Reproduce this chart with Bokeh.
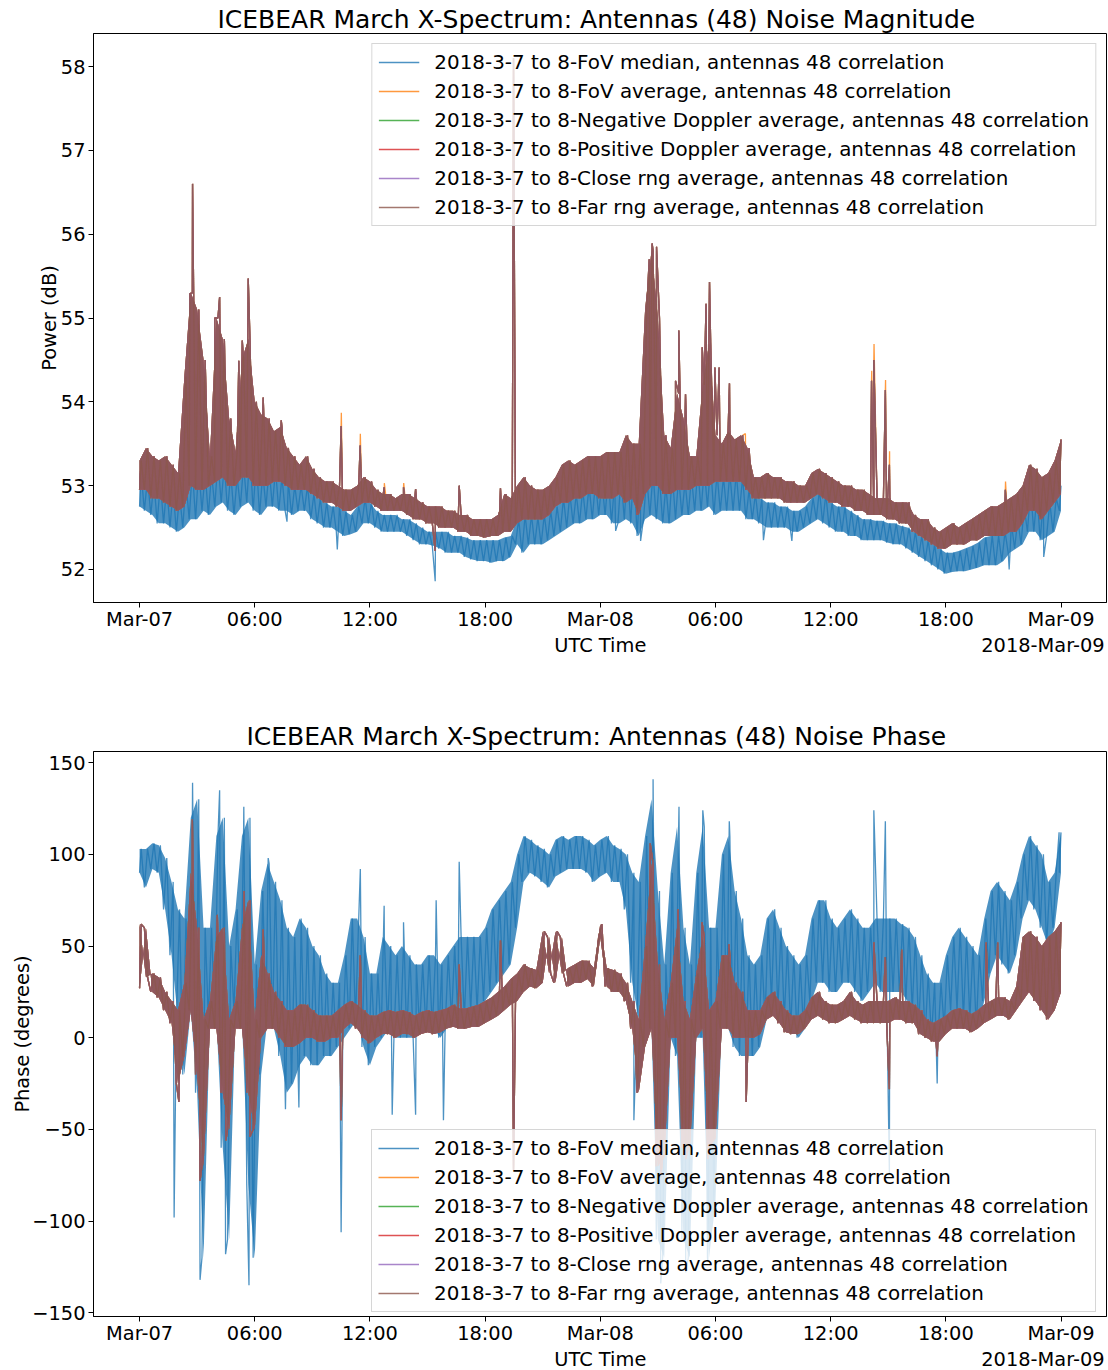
from bokeh.plotting import figure
from bokeh.layouts import column
from bokeh.models import FixedTicker, Range1d, Legend, LegendItem, Label
from bokeh.embed import file_html
from bokeh.resources import INLINE

# ---------------- data ----------------
# samples every 20 min from 2018-03-07 00:00 UTC (hours 0..48); each bin has a low and a high reading
STEP_H = 1.0 / 3.0

x_tick_hours = [0, 6, 12, 18, 24, 30, 36, 42, 48]
x_tick_labels = ["Mar-07", "06:00", "12:00", "18:00", "Mar-08", "06:00", "12:00", "18:00", "Mar-09"]
mag_ticks = [52, 53, 54, 55, 56, 57, 58]
mag_tick_labels = ["52", "53", "54", "55", "56", "57", "58"]
phase_ticks = [-150, -100, -50, 0, 50, 100, 150]
phase_tick_labels = ["\u2212150", "\u2212100", "\u221250", "0", "50", "100", "150"]

title_mag = "ICEBEAR March X-Spectrum: Antennas (48)  Noise Magnitude"
title_phase = "ICEBEAR March X-Spectrum: Antennas (48)  Noise Phase"
x_label = "UTC Time"
x_offset_label = "2018-Mar-09"

series_labels = [
    "2018-3-7 to 8-FoV median, antennas 48 correlation",
    "2018-3-7 to 8-FoV average, antennas 48 correlation",
    "2018-3-7 to 8-Negative Doppler average, antennas 48 correlation",
    "2018-3-7 to 8-Positive Doppler average, antennas 48 correlation",
    "2018-3-7 to 8-Close rng average, antennas 48 correlation",
    "2018-3-7 to 8-Far rng average, antennas 48 correlation",
]
series_colors = ["#1f77b4", "#ff7f0e", "#2ca02c", "#d62728", "#9467bd", "#8c564b"]

# --- magnitude (dB): FoV median
mag_med_lo = [52.75, 52.70, 52.65, 52.55, 52.55, 52.50, 52.45, 52.50, 52.60, 52.60, 52.70, 52.65,
              52.75, 52.80, 52.70, 52.65, 52.75, 52.80, 52.70, 52.65, 52.75, 52.75, 52.70, 52.70,
              52.65, 52.70, 52.70, 52.60, 52.55, 52.50, 52.50, 52.45, 52.40, 52.42, 52.45, 52.55,
              52.55, 52.50, 52.45, 52.45, 52.45, 52.45, 52.40, 52.35, 52.30, 52.30, 52.28, 52.25,
              52.20, 52.20, 52.20, 52.15, 52.12, 52.10, 52.10, 52.08, 52.10, 52.10, 52.15, 52.30,
              52.20, 52.30, 52.30, 52.30, 52.35, 52.40, 52.45, 52.50, 52.55, 52.55, 52.60, 52.60,
              52.65, 52.65, 52.55, 52.55, 52.60, 52.55, 52.40, 52.60, 52.65, 52.60, 52.55, 52.55,
              52.60, 52.65, 52.65, 52.70, 52.70, 52.75, 52.65, 52.70, 52.70, 52.70, 52.70, 52.60,
              52.60, 52.55, 52.50, 52.50, 52.50, 52.50, 52.45, 52.45, 52.50, 52.55, 52.60, 52.55,
              52.50, 52.45, 52.45, 52.40, 52.40, 52.35, 52.35, 52.35, 52.35, 52.32, 52.30, 52.30,
              52.25, 52.20, 52.15, 52.10, 52.05, 52.00, 51.95, 51.97, 51.98, 51.98, 52.00, 52.02,
              52.05, 52.05, 52.05, 52.10, 52.20, 52.25, 52.30, 52.45, 52.45, 52.35, 52.40, 52.45, 52.70]
mag_med_hi = [53.15, 53.10, 53.05, 53.05, 53.00, 52.95, 52.90, 53.05, 53.20, 53.20, 53.15, 53.15,
              53.30, 53.25, 53.15, 53.10, 53.25, 53.40, 53.30, 53.15, 53.20, 53.20, 53.10, 53.05,
              53.00, 53.00, 53.00, 52.90, 52.85, 52.80, 52.75, 52.75, 52.70, 52.65, 52.75, 52.85,
              52.80, 52.70, 52.65, 52.65, 52.65, 52.60, 52.60, 52.55, 52.50, 52.45, 52.45, 52.45,
              52.45, 52.40, 52.40, 52.38, 52.35, 52.35, 52.35, 52.35, 52.35, 52.38, 52.40, 52.60,
              52.65, 52.65, 52.62, 52.65, 52.70, 52.75, 52.85, 52.90, 52.90, 52.95, 53.00, 53.05,
              53.05, 53.10, 53.05, 53.10, 53.20, 53.25, 53.10, 53.10, 53.15, 53.10, 53.00, 53.15,
              53.10, 53.05, 53.10, 53.20, 53.20, 53.25, 53.15, 53.10, 53.15, 53.15, 53.10, 52.95,
              52.90, 52.85, 52.80, 52.80, 52.75, 52.75, 52.70, 52.70, 52.75, 52.85, 52.95, 52.90,
              52.80, 52.75, 52.75, 52.70, 52.65, 52.60, 52.60, 52.58, 52.58, 52.55, 52.55, 52.52,
              52.50, 52.45, 52.40, 52.35, 52.30, 52.25, 52.20, 52.20, 52.22, 52.25, 52.28, 52.32,
              52.38, 52.40, 52.40, 52.45, 52.55, 52.60, 52.75, 52.95, 52.90, 52.85, 52.80, 52.85, 53.00]
mag_med_spike_h = [7.68, 10.30, 15.40, 24.80, 26.10, 32.50, 33.98, 45.30, 47.10]
mag_med_spike_v = [52.57, 52.24, 51.86, 52.46, 52.34, 52.35, 52.34, 52.00, 52.15]

# --- magnitude (dB): averages (FoV, Doppler, range averages overlap almost exactly)
mag_avg_lo = [52.95, 52.95, 52.85, 52.85, 52.80, 52.75, 52.70, 52.75, 53.00, 52.95, 52.95, 53.00,
              53.05, 53.10, 53.00, 53.00, 53.10, 53.10, 53.00, 53.00, 53.00, 53.05, 53.05, 53.00,
              52.95, 52.95, 52.95, 52.90, 52.85, 52.80, 52.80, 52.75, 52.70, 52.70, 52.75, 52.80,
              52.80, 52.75, 52.70, 52.70, 52.70, 52.70, 52.65, 52.60, 52.60, 52.55, 52.55, 52.50,
              52.50, 52.50, 52.45, 52.45, 52.40, 52.40, 52.38, 52.40, 52.40, 52.45, 52.45, 52.55,
              52.60, 52.60, 52.60, 52.60, 52.65, 52.75, 52.80, 52.80, 52.85, 52.85, 52.90, 52.90,
              52.85, 52.85, 52.85, 52.90, 52.80, 52.85, 52.65, 52.90, 53.00, 53.00, 52.90, 52.90,
              52.95, 52.95, 52.95, 53.00, 53.00, 53.00, 53.05, 53.05, 53.05, 53.05, 53.05, 52.95,
              52.85, 52.85, 52.85, 52.85, 52.85, 52.80, 52.80, 52.80, 52.80, 52.85, 52.90, 52.85,
              52.80, 52.80, 52.75, 52.75, 52.70, 52.70, 52.65, 52.65, 52.65, 52.60, 52.60, 52.55,
              52.55, 52.45, 52.40, 52.35, 52.30, 52.25, 52.25, 52.30, 52.30, 52.30, 52.35, 52.35,
              52.40, 52.40, 52.40, 52.40, 52.45, 52.45, 52.55, 52.70, 52.70, 52.60, 52.70, 52.80, 52.90]
mag_avg_hi = [53.30, 53.45, 53.35, 53.30, 53.35, 53.25, 53.15, 54.30, 55.30, 55.10, 54.50, 53.35,
              55.00, 54.75, 53.80, 53.40, 54.50, 54.75, 54.00, 53.85, 53.80, 53.65, 53.70, 53.45,
              53.35, 53.25, 53.35, 53.20, 53.10, 53.05, 53.05, 53.00, 52.95, 52.95, 53.00, 53.10,
              53.05, 52.95, 52.90, 52.90, 52.85, 52.90, 52.90, 52.85, 52.80, 52.75, 52.75, 52.75,
              52.70, 52.70, 52.65, 52.65, 52.60, 52.60, 52.60, 52.60, 52.65, 52.90, 52.85, 53.00,
              53.10, 53.00, 52.95, 52.95, 53.00, 53.10, 53.25, 53.30, 53.25, 53.30, 53.35, 53.35,
              53.35, 53.40, 53.40, 53.40, 53.60, 53.50, 53.50, 55.10, 55.80, 55.00, 53.60, 53.45,
              54.10, 53.80, 53.35, 53.35, 54.20, 54.70, 53.60, 53.50, 53.65, 53.55, 53.60, 53.45,
              53.10, 53.10, 53.15, 53.10, 53.10, 53.05, 53.05, 53.00, 53.00, 53.15, 53.20, 53.15,
              53.10, 53.05, 53.00, 53.00, 52.95, 52.95, 52.90, 52.85, 52.85, 52.85, 52.80, 52.80,
              52.80, 52.65, 52.60, 52.60, 52.50, 52.45, 52.50, 52.55, 52.50, 52.55, 52.60, 52.65,
              52.70, 52.75, 52.75, 52.80, 52.85, 52.90, 53.00, 53.25, 53.20, 53.10, 53.15, 53.30, 53.55]
mag_avg_spike_h = [2.62, 2.76, 3.92, 4.17, 4.46, 5.17, 5.35, 5.66, 6.44, 7.38, 10.50, 11.49, 12.74,
                   13.75, 14.38, 15.40, 16.65, 18.80, 19.48, 26.55, 26.70, 26.93, 27.92, 28.09, 28.44,
                   29.31, 29.51, 29.69, 29.97, 30.19, 30.73, 38.13, 38.25, 38.85, 39.06, 45.10]
mag_avg_spike_v = [55.29, 56.60, 55.00, 55.25, 54.25, 54.49, 54.73, 55.47, 54.05, 53.78, 53.71, 53.48, 52.98,
                   52.98, 52.96, 52.22, 53.00, 52.97, 58.10, 55.70, 55.89, 55.85, 54.25, 54.85, 54.09,
                   54.65, 55.17, 55.43, 54.41, 54.41, 54.22, 54.25, 54.50, 54.14, 53.25, 52.95]
# FoV average peaks that stick out above the other averages
mag_fov_avg_extra_h = [10.51, 11.50, 12.75, 13.76, 31.56, 38.14, 38.26, 38.86, 39.07, 45.11]
mag_fov_avg_extra_v = [53.87, 53.62, 53.03, 53.03, 53.62, 54.37, 54.69, 54.26, 53.41, 53.05]

# --- phase (degrees): FoV median
ph_med_lo = [90, 82, 92, 90, 70, 45, 10, -20, 15, -30, -120, 10,
             10, -60, -110, 15, 10, -80, -120, -20, 10, 5, -10, -30,
             -25, -15, -10, -15, -15, -10, -10, -5, 0, 5, 10, -5,
             -15, -5, 0, 5, 0, 0, 0, 0, 5, 5, 5, 0,
             5, 10, 10, 10, 15, 15, 20, 25, 30, 35, 40, 60,
             85, 90, 88, 85, 82, 88, 90, 92, 92, 92, 90, 85,
             88, 90, 85, 85, 70, 30, 10, 0, 5, -110, -120, 0,
             -10, -110, -120, 0, 0, -120, -90, 10, 5, -5, -10, -10,
             -10, -5, 10, 20, 15, 10, 5, 0, 5, 20, 30, 30,
             25, 25, 30, 30, 25, 20, 25, 30, 25, 25, 25, 25,
             20, 15, 5, 0, 0, -2, 5, 15, 15, 10, 10, 5,
             20, 35, 45, 40, 35, 45, 65, 75, 70, 60, 50, 60, 90]
ph_med_hi = [103, 103, 106, 105, 98, 85, 70, 65, 120, 130, 60, 60,
             110, 120, 50, 70, 110, 120, 40, 80, 95, 85, 75, 60,
             55, 65, 60, 50, 45, 35, 30, 30, 45, 65, 65, 55,
             35, 35, 55, 50, 45, 50, 45, 40, 40, 45, 45, 40,
             45, 50, 55, 55, 55, 55, 60, 70, 75, 80, 85, 100,
             110, 108, 105, 103, 100, 108, 110, 108, 110, 110, 108, 105,
             108, 110, 105, 103, 100, 90, 85, 110, 130, 80, 40, 90,
             115, 60, 40, 90, 115, 60, 60, 100, 110, 80, 65, 45,
             40, 45, 65, 70, 60, 50, 45, 40, 45, 65, 75, 75,
             65, 60, 65, 70, 65, 60, 60, 65, 65, 65, 65, 62,
             60, 55, 45, 35, 30, 30, 45, 55, 60, 55, 50, 45,
             65, 80, 85, 80, 75, 85, 100, 110, 105, 100, 85, 90, 112]
ph_med_spike_h = [1.80, 2.76, 3.15, 4.17, 4.48, 5.43, 5.70, 6.70, 7.60, 8.30, 10.50, 11.50, 12.74,
                  13.16, 13.75, 14.38, 15.45, 15.83, 16.65, 25.75, 26.75, 27.15, 28.10, 28.45,
                  29.34, 29.60, 30.72, 38.25, 38.85, 39.06, 41.55, 47.90]
ph_med_spike_v = [-98, 139, -132, 135, -118, 126, -135, 98, -39, -38, -106, 92, 72,
                  -42, 63, -42, 75, -45, 96, -45, 141, -134, 126, -128,
                  124, -122, 118, 124, 118, -74, -25, 112]

# --- phase (degrees): averages
ph_avg_lo = [27, 60, 25, 22, 15, 8, -25, -10, 15, -20, -70, 5,
             5, -30, -50, 5, 5, -30, -50, 0, 5, 5, 0, -5,
             -5, -3, 0, 0, -2, -2, 0, 0, 5, 8, 5, 0,
             -3, 0, 2, 2, 0, 2, 2, 0, 2, 3, 2, 3,
             5, 6, 5, 5, 6, 6, 8, 10, 12, 15, 18, 20,
             25, 28, 27, 30, 55, 30, 55, 28, 30, 30, 32, 28,
             55, 28, 25, 25, 20, 5, -30, -5, 5, -70, -65, 0,
             0, -60, -60, 0, 5, -60, -55, 5, 5, 0, 0, 0,
             0, 2, 10, 12, 8, 3, 2, 2, 5, 10, 12, 10,
             8, 8, 10, 12, 10, 8, 8, 8, 8, 8, 10, 10,
             8, 8, 2, 0, -2, -2, 2, 5, 5, 5, 3, 5,
             8, 10, 12, 12, 10, 15, 20, 25, 20, 15, 10, 15, 25]
ph_avg_hi = [62, 33, 35, 33, 25, 20, 15, 30, 90, 60, 10, 20,
             55, 60, 10, 20, 60, 75, 10, 45, 35, 25, 20, 15,
             15, 18, 18, 15, 12, 12, 12, 15, 18, 20, 18, 15,
             12, 12, 14, 15, 14, 15, 14, 12, 14, 15, 14, 15,
             16, 18, 16, 16, 17, 18, 20, 22, 25, 28, 32, 35,
             40, 38, 37, 58, 35, 58, 35, 38, 40, 42, 42, 38,
             62, 38, 37, 35, 30, 20, 10, 50, 95, 40, 10, 30,
             60, 20, 10, 35, 55, 15, 20, 45, 45, 30, 25, 15,
             15, 15, 22, 25, 20, 15, 12, 12, 15, 22, 25, 20,
             18, 18, 20, 25, 20, 18, 20, 20, 20, 20, 22, 20,
             20, 18, 15, 10, 8, 10, 12, 15, 16, 15, 13, 15,
             18, 20, 22, 22, 20, 28, 55, 58, 55, 50, 55, 58, 63]
ph_avg_spike_h = [2.05, 2.75, 3.15, 4.05, 4.50, 5.45, 5.75, 6.44, 10.50, 11.50, 16.65, 18.80, 19.48,
                  26.60, 27.15, 28.05, 28.45, 29.30, 29.60, 30.70, 31.60, 38.25, 38.85, 39.06,
                  39.70, 41.55, 44.10, 44.70]
ph_avg_spike_v = [-35, 119, -78, 67, -56, 80, -54, 59, -45, 45, 40, 53, -72,
                  106, -76, 70, -66, 63, -66, 51, -35, 52, 44, -28,
                  48, -10, 52, 52]


# ---------------- helpers ----------------
def build_series(lo, hi, spike_h, spike_v):
    pts = []
    for i, (a, b) in enumerate(zip(lo, hi)):
        c = i * STEP_H
        pts.append((max(c - STEP_H / 4, 0.0), a))
        pts.append((min(c + STEP_H / 4, 48.0), b))
    pts += list(zip(spike_h, spike_v))
    pts.sort(key=lambda q: q[0])
    return [q[0] for q in pts], [q[1] for q in pts]


FONT = "DejaVu Sans"
TICK_FS = "19.4px"
LEGEND_FS = "19.9px"
TITLE_FS = "25px"
X_RANGE = (-2.4, 50.37)
X_CENTER_H = 24.0
X_RIGHT_TEXT_H = 50.27
FIG_W = 1108
LEFT_B = 93
RIGHT_B = 2


def style(p, yticks, ylabels, ylabel, label_standoff):
    p.outline_line_color = "black"
    p.outline_line_alpha = 1.0
    p.outline_line_width = 1
    p.xgrid.visible = False
    p.ygrid.visible = False
    p.background_fill_color = "white"
    p.border_fill_color = "white"
    p.xaxis.ticker = FixedTicker(ticks=x_tick_hours)
    p.xaxis.major_label_overrides = {float(t): l for t, l in zip(x_tick_hours, x_tick_labels)}
    p.yaxis.ticker = FixedTicker(ticks=yticks)
    p.yaxis.major_label_overrides = {float(t): l for t, l in zip(yticks, ylabels)}
    for ax in (p.xaxis[0], p.yaxis[0]):
        ax.axis_line_color = "black"
        ax.major_tick_line_color = "black"
        ax.major_tick_out = 5
        ax.major_tick_in = 0
        ax.minor_tick_line_color = None
        ax.major_label_text_font = FONT
        ax.major_label_text_font_size = TICK_FS
        ax.major_label_text_color = "black"
    p.xaxis.major_label_standoff = 0
    p.yaxis.major_label_standoff = 3
    p.yaxis.axis_label = ylabel
    p.yaxis.axis_label_text_font = FONT
    p.yaxis.axis_label_text_font_size = TICK_FS
    p.yaxis.axis_label_text_font_style = "normal"
    p.yaxis.axis_label_text_color = "black"
    p.yaxis.axis_label_standoff = label_standoff


def add_series(p, med, avg, fov_avg):
    """med/avg/fov_avg: (lo, hi, spike_h, spike_v)"""
    rs = []
    data = [med, fov_avg, avg, avg, avg, avg]
    for (lo, hi, sh, sv), col in zip(data, series_colors):
        ts = [i * STEP_H for i in range(len(lo))]
        p.varea(x=ts, y1=lo, y2=hi, fill_color=col, fill_alpha=0.8)
        xs, ys = build_series(lo, hi, sh, sv)
        rs.append(p.line(xs, ys, line_color=col, line_alpha=0.8, line_width=1.3))
    return [LegendItem(label=lab, renderers=[r]) for lab, r in zip(series_labels, rs)]


def make_legend(items, loc, margin):
    lg = Legend(items=items, location=loc)
    lg.label_text_font = FONT
    lg.label_text_font_size = LEGEND_FS
    lg.label_text_color = "black"
    lg.glyph_width = 41
    lg.glyph_height = 24
    lg.label_height = 24
    lg.spacing = 5
    lg.padding = 6
    lg.margin = margin
    lg.label_standoff = 15
    lg.border_line_color = "#cccccc"
    lg.border_line_alpha = 0.8
    lg.background_fill_color = "white"
    lg.background_fill_alpha = 0.8
    return lg


def strip(height, texts):
    """A blank band without axes that holds texts lying outside the plot frames
    (titles, x label, date offset). x in hours (shared with the plots), y in pixels
    from the band's bottom (text middle)."""
    s = figure(width=FIG_W, height=height, x_range=Range1d(*X_RANGE), y_range=Range1d(0, height),
               output_backend="svg", toolbar_location=None, x_axis_location=None,
               y_axis_location=None, min_border_left=LEFT_B, min_border_right=RIGHT_B,
               min_border_top=0, min_border_bottom=0)
    s.outline_line_color = None
    s.xgrid.visible = False
    s.ygrid.visible = False
    s.background_fill_color = "white"
    s.border_fill_color = "white"
    for x, y, txt, fs, align in texts:
        s.add_layout(Label(x=x, y=y, text=txt, text_align=align, text_baseline="middle",
                           text_font=FONT, text_font_size=fs, text_color="black"))
    return s


# ---------------- title strip ----------------
s0 = strip(33, [(X_CENTER_H, 13.75, title_mag, TITLE_FS, "center")])

# ---------------- top: magnitude ----------------
MAG_RANGE = (51.606, 58.394)
p1 = figure(width=FIG_W, height=600, x_range=Range1d(*X_RANGE), y_range=Range1d(*MAG_RANGE),
            output_backend="svg", toolbar_location=None,
            min_border_left=LEFT_B, min_border_right=RIGHT_B, min_border_top=0, min_border_bottom=31)
style(p1, mag_ticks, mag_tick_labels, "Power (dB)", -3)
items1 = add_series(p1,
                    (mag_med_lo, mag_med_hi, mag_med_spike_h, mag_med_spike_v),
                    (mag_avg_lo, mag_avg_hi, mag_avg_spike_h, mag_avg_spike_v),
                    (mag_avg_lo, mag_avg_hi, mag_avg_spike_h + mag_fov_avg_extra_h,
                     mag_avg_spike_v + mag_fov_avg_extra_v))
p1.add_layout(make_legend(items1, "top_right", 10))

# ---------------- middle strip: x label row + second title ----------------
s1 = strip(118, [(X_CENTER_H, 105.8, x_label, TICK_FS, "center"),
                 (X_RIGHT_TEXT_H, 105.8, x_offset_label, TICK_FS, "right"),
                 (X_CENTER_H, 15.25, title_phase, TITLE_FS, "center")])

# ---------------- bottom: phase ----------------
PH_RANGE = (-152.0, 156.1)
p2 = figure(width=FIG_W, height=596, x_range=Range1d(*X_RANGE), y_range=Range1d(*PH_RANGE),
            output_backend="svg", toolbar_location=None,
            min_border_left=LEFT_B, min_border_right=RIGHT_B, min_border_top=0, min_border_bottom=31)
style(p2, phase_ticks, phase_tick_labels, "Phase (degrees)", -5)
items2 = add_series(p2,
                    (ph_med_lo, ph_med_hi, ph_med_spike_h, ph_med_spike_v),
                    (ph_avg_lo, ph_avg_hi, ph_avg_spike_h, ph_avg_spike_v),
                    (ph_avg_lo, ph_avg_hi, ph_avg_spike_h, ph_avg_spike_v))
# bottom-left corner of the legend, in pixels from the frame's bottom-left
p2.add_layout(make_legend(items2, (278, 4), 0))

# ---------------- bottom strip: x label row ----------------
s2 = strip(23, [(X_CENTER_H, 11.5, x_label, TICK_FS, "center"),
                (X_RIGHT_TEXT_H, 11.5, x_offset_label, TICK_FS, "right")])

layout = column(s0, p1, s1, p2, s2, spacing=0, width=FIG_W)
open("out.html", "w").write(file_html(layout, INLINE))
